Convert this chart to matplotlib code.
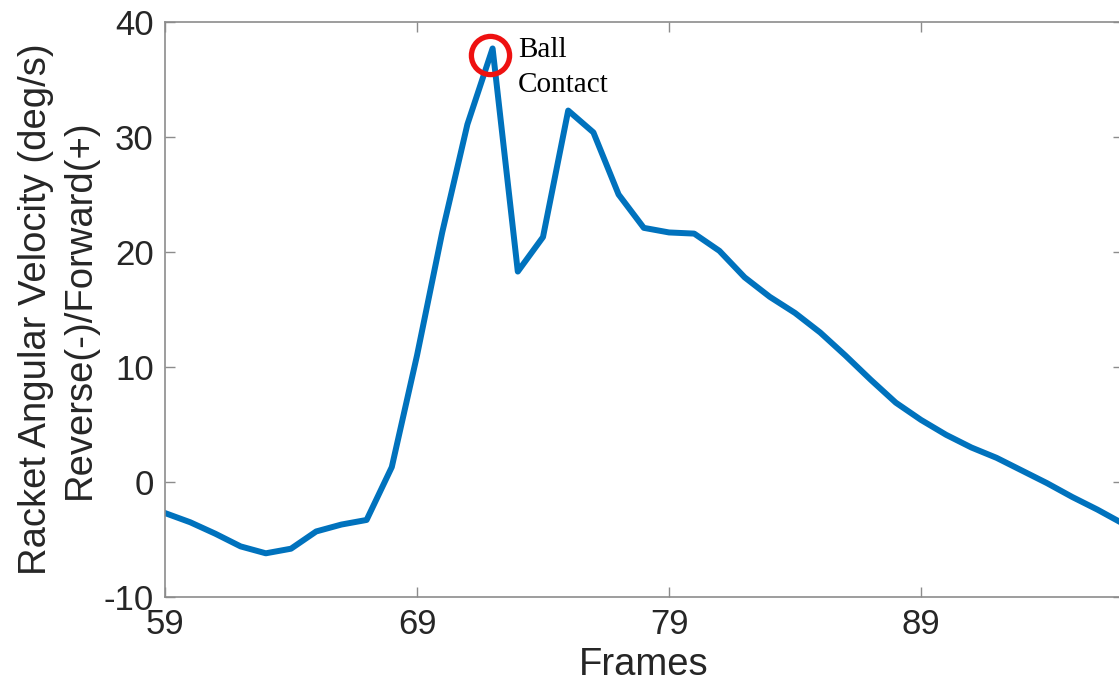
import numpy as np
import matplotlib.pyplot as plt

plt.rcParams['axes.unicode_minus'] = False

# Racket angular velocity per frame
frames = np.arange(59, 98)
velocity = [-2.7, -3.5, -4.5, -5.6, -6.2, -5.8, -4.3, -3.7, -3.3, 1.3,
            11.0, 21.7, 31.1, 37.7, 18.3, 21.3, 32.3, 30.4, 25.0, 22.1,
            21.7, 21.6, 20.1, 17.8, 16.1, 14.7, 13.0, 11.0, 8.9, 6.9,
            5.4, 4.1, 3.0, 2.1, 1.0, -0.1, -1.3, -2.4, -3.6]
contact_frame = 71.9
contact_y = 37.1
xticks = [59, 69, 79, 89]
yticks = [-10, 0, 10, 20, 30, 40]

fig = plt.figure(figsize=(11.19, 6.92), dpi=100)
ax = fig.add_axes([165 / 1119, 95 / 692, 957.6 / 1119, 575 / 692])

ax.plot(frames, velocity, color='#0072BD', linewidth=4.3)
ax.plot(contact_frame, contact_y, 'o', markersize=27.5, markerfacecolor='none',
        markeredgecolor='#EE1111', markeredgewidth=3.8, clip_on=False)
ax.text(73.0, 38.7, 'Ball\nContact', family='Liberation Serif', fontsize=21,
        va='top', ha='left', linespacing=1.45, color='black')

ax.set_xlim(59, 97)
ax.set_ylim(-10, 40)
ax.set_xticks(xticks)
ax.set_yticks(yticks)

for s in ax.spines.values():
    s.set_color('#8c8c8c')
    s.set_linewidth(1.2)
ax.tick_params(direction='in', length=7, width=1, color='#8c8c8c',
               labelsize=25, labelcolor='#262626', top=True, right=True, pad=8)
for lab in ax.get_xticklabels() + ax.get_yticklabels():
    lab.set_family('Liberation Sans')

ax.set_xlabel('Frames', family='Liberation Sans', fontsize=27.5,
              color='#262626', labelpad=4)
ax.set_ylabel('Racket Angular Velocity (deg/s)\nReverse(-)/Forward(+)',
              family='Liberation Sans', fontsize=27.5, color='#262626',
              linespacing=1.3, labelpad=4)

fig.savefig('out.png', dpi=100)
